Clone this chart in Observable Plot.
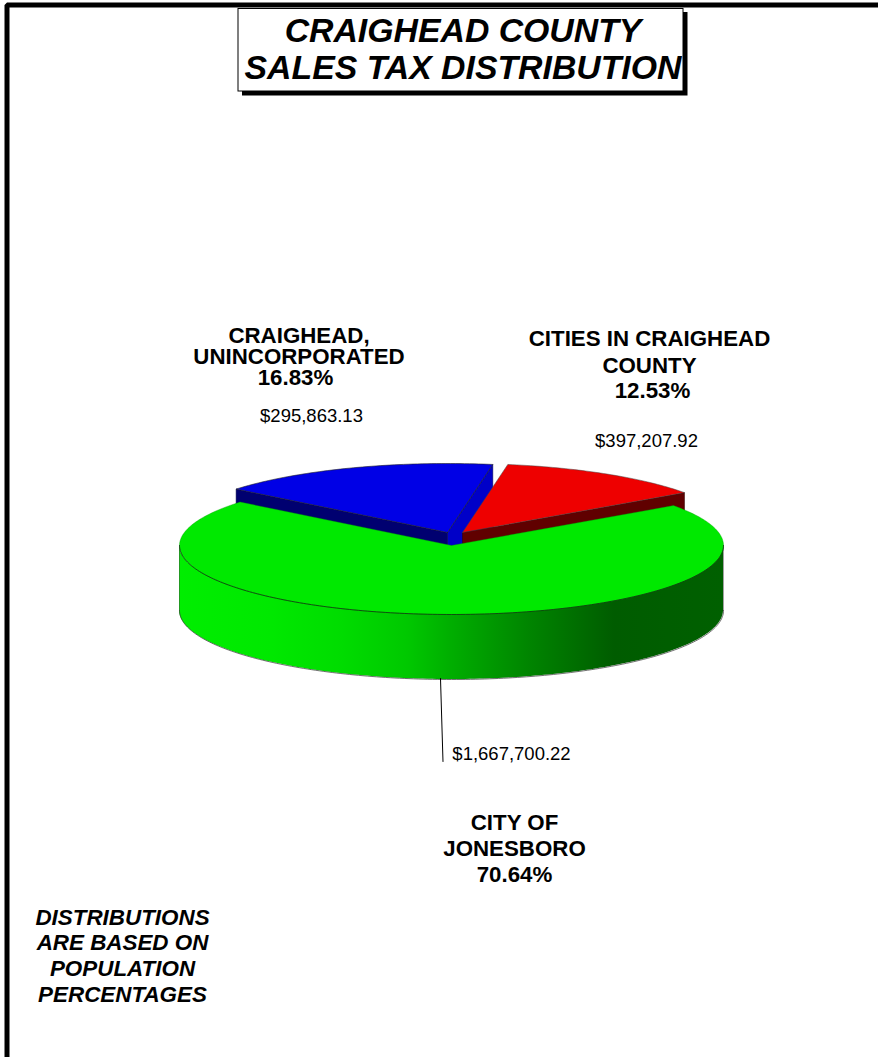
<!DOCTYPE html>
<html>
<head>
<meta charset="utf-8">
<title>Craighead County Sales Tax Distribution</title>
<script src="https://cdn.jsdelivr.net/npm/d3@7"></script>
<script src="https://cdn.jsdelivr.net/npm/@observablehq/plot@0.6"></script>
<style>
html,body{margin:0;padding:0;background:#fff;}
svg{display:block;}
</style>
</head>
<body>
<div id="chart"></div>
<script>
// ---- data ----
const titleLines = ["CRAIGHEAD COUNTY", "SALES TAX DISTRIBUTION"];
const categories = ["CRAIGHEAD, UNINCORPORATED", "CITIES IN CRAIGHEAD COUNTY", "CITY OF JONESBORO"];
const percents = [16.83, 12.53, 70.64];
const dollars = ["$295,863.13", "$397,207.92", "$1,667,700.22"];
const noteLines = ["DISTRIBUTIONS", "ARE BASED ON", "POPULATION", "PERCENTAGES"];

// ---- layout and style (separate from the data) ----
const W = 878, H = 1057;
const RX = 272, RY = 69, DEPTH = 65;
const START_DEG = -51;
const centers = [[447, 532], [462, 532], [451, 545]];
const topColors = ["#0000e6", "#ee0000", "#00e900"];
const ARIAL = "Liberation Sans, Arial, sans-serif";

const arcs = d3.pie().sort(null)
  .startAngle(START_DEG * Math.PI / 180)
  .endAngle((START_DEG + 360) * Math.PI / 180)(percents);

const pt = (c, a, dy = 0) => ({x: c[0] + RX * Math.sin(a), y: c[1] - RY * Math.cos(a) + dy});

function sector(i) {
  const c = centers[i], {startAngle: a0, endAngle: a1} = arcs[i];
  const n = Math.ceil((a1 - a0) / (Math.PI / 180));
  const pts = [{x: c[0], y: c[1]}];
  for (let k = 0; k <= n; k++) pts.push(pt(c, a0 + (a1 - a0) * k / n));
  pts.push({x: c[0], y: c[1]});
  return pts.map(p => ({...p, id: i}));
}

function wall(c, a, id) {
  const e = pt(c, a);
  return [{x: c[0], y: c[1]}, e, {x: e.x, y: e.y + DEPTH}, {x: c[0], y: c[1] + DEPTH}, {x: c[0], y: c[1]}]
    .map(p => ({...p, id}));
}

// back walls of the two pulled out slices (the green top hides their lower part)
const blueLeftWall = wall(centers[0], arcs[0].startAngle, "a");
const blueRightWall = wall(centers[0], arcs[0].endAngle, "b");
const redRightWall = wall(centers[1], arcs[1].endAngle, "c");

// front rim of the green slice: lower half of the ellipse
const rim = d3.range(90, 271).map(d => {
  const p = pt(centers[2], d * Math.PI / 180);
  return {x: p.x, y: p.y, y2: p.y + DEPTH};
});

const gradientStops = [
  [0, "#00ee00"], [0.17, "#00e800"], [0.3, "#00dc00"], [0.42, "#00c800"], [0.5, "#00ae00"],
  [0.645, "#008400"], [0.8, "#005c00"], [1, "#006000"]
];
function defs() {
  const svg = d3.create("svg:g");
  const g = svg.append("defs").append("linearGradient").attr("id", "wallGrad");
  gradientStops.forEach(([o, c]) => g.append("stop").attr("offset", o).attr("stop-color", c));
  return svg.node();
}

const boldLabels = [
  {t: "CRAIGHEAD,", x: 298.5, y: 335},
  {t: "UNINCORPORATED", x: 298.5, y: 356},
  {t: percents[0].toFixed(2) + "%", x: 295, y: 377},
  {t: "CITIES IN CRAIGHEAD", x: 649, y: 338},
  {t: "COUNTY", x: 649, y: 365},
  {t: percents[1].toFixed(2) + "%", x: 652, y: 390},
  {t: "CITY OF", x: 514, y: 822},
  {t: "JONESBORO", x: 514, y: 848},
  {t: percents[2].toFixed(2) + "%", x: 514, y: 874}
];
const dollarLabels = [
  {t: dollars[0], x: 311, y: 416},
  {t: dollars[1], x: 646, y: 441},
  {t: dollars[2], x: 511, y: 754}
];
const noteLabels = noteLines.map((t, i) => ({t, x: 122, y: [917, 942, 968, 994][i]}));
const titleLabels = titleLines.map((t, i) => ({t, x: 462.5, y: [31, 68][i]}));

const chart = Plot.plot({
  width: W, height: H, margin: 0,
  style: {background: "#fff"},
  x: {domain: [0, W], range: [0, W], axis: null},
  y: {domain: [0, H], range: [0, H], axis: null},
  marks: [
    defs,
    // page frame
    Plot.line([{x: 6.5, y: H}, {x: 6.5, y: 4.5}, {x: W, y: 4.5}], {x: "x", y: "y", stroke: "#000", strokeWidth: 5, strokeLinejoin: "miter"}),
    // title box
    Plot.rect([{a: 242, b: 687.5, c: 12, d: 95.5}], {x1: "a", x2: "b", y1: "c", y2: "d", fill: "#000"}),
    Plot.rect([{a: 238, b: 683, c: 8.5, d: 91}], {x1: "a", x2: "b", y1: "c", y2: "d", fill: "#fff", stroke: "#000", strokeWidth: 1}),
    Plot.text(titleLabels, {x: "x", y: "y", text: "t", fontFamily: ARIAL, fontStyle: "italic", fontWeight: "bold", fontSize: 33.8, fill: "#000"}),
    // pulled-out slices walls
    Plot.line(blueLeftWall, {x: "x", y: "y", fill: "#000070", stroke: "#000040", strokeWidth: 0.5}),
    Plot.line(blueRightWall, {x: "x", y: "y", fill: "#0000c8", stroke: "#000040", strokeWidth: 0.5}),
    Plot.line(redRightWall, {x: "x", y: "y", fill: "#600000", stroke: "#300000", strokeWidth: 0.5}),
    // slice tops
    Plot.line(sector(0), {x: "x", y: "y", fill: topColors[0], stroke: "#222", strokeWidth: 0.6, curve: "linear"}),
    Plot.line(sector(1), {x: "x", y: "y", fill: topColors[1], stroke: "#444", strokeWidth: 0.5, curve: "linear"}),
    // green rim
    Plot.area(rim, {x1: "x", y1: "y", y2: "y2", fill: "url(#wallGrad)"}),
    Plot.line(rim, {x: "x", y: "y2", stroke: "#333", strokeWidth: 0.7}),
    Plot.line([rim[0], {x: rim[0].x, y: rim[0].y2}], {x: "x", y: "y", stroke: "#444", strokeWidth: 0.5}),
    Plot.line([rim[rim.length - 1], {x: rim[rim.length - 1].x, y: rim[rim.length - 1].y2}], {x: "x", y: "y", stroke: "#444", strokeWidth: 0.5}),
    // green top
    Plot.line(sector(2), {x: "x", y: "y", fill: topColors[2], stroke: "#00a000", strokeWidth: 0.4}),
    Plot.line(rim, {x: "x", y: "y", stroke: "#113311", strokeWidth: 0.8}),
    // leader line
    Plot.line([{x: 440, y: 678}, {x: 442.5, y: 761}], {x: "x", y: "y", stroke: "#000", strokeWidth: 1}),
    // labels
    Plot.text(boldLabels, {x: "x", y: "y", text: "t", fontFamily: ARIAL, fontWeight: "bold", fontSize: 22.3, fill: "#000"}),
    Plot.text(dollarLabels, {x: "x", y: "y", text: "t", fontFamily: ARIAL, fontSize: 18.5, fill: "#000"}),
    Plot.text(noteLabels, {x: "x", y: "y", text: "t", fontFamily: ARIAL, fontStyle: "italic", fontWeight: "bold", fontSize: 22.4, fill: "#000"})
  ]
});
document.getElementById("chart").append(chart);
</script>
</body>
</html>
